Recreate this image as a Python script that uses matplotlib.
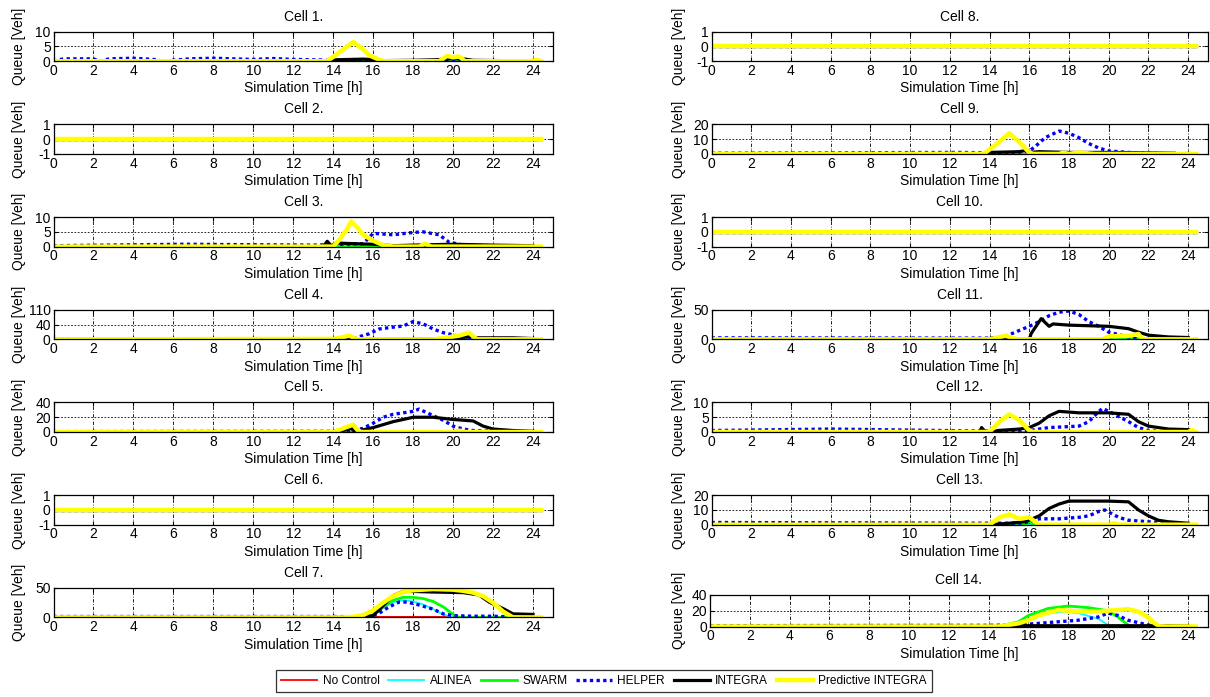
import matplotlib.pyplot as plt
import numpy as np

plt.rcParams['font.family'] = ['Liberation Sans', 'DejaVu Sans']
plt.rcParams['font.size'] = 10
plt.rcParams['axes.unicode_minus'] = False

# 시리즈 이름과 색, 선 모양
names = ['No Control', 'ALINEA', 'SWARM', 'HELPER', 'INTEGRA', 'Predictive INTEGRA']
colors = ['#ff0000', '#00ffff', '#00ff00', '#0000ff', '#000000', '#ffff00']
widths = [1.3, 1.3, 2.0, 2.4, 2.3, 3.2]
styles = ['-', '-', '-', (0, (1, 1)), '-', '-']

t_end = 24.4
flat = [(0, 0), (t_end, 0)]

# ---- Cell 1.
c1_helper = [(0, 0), (0.5, 0.8), (2, 0.8), (2.3, 0), (2.8, 0.8), (4, 1), (5, 0.6), (5.5, 0),
             (6.8, 0.8), (8, 1), (10, 0.6), (11, 0.9), (12, 0.6), (13.6, 0.4), (13.8, 0), (t_end, 0)]
c1_integra = [(0, 0), (13.8, 0.2), (14.2, 0.5), (15.5, 0.7), (16.2, 0.5), (16.5, 0.2), (18, 0.3),
              (19.2, 0.5), (20, 0.9), (20.5, 0.8), (21, 0.3), (24, 0.1)]
c1_pred = [(0, 0), (13.7, 0), (14.2, 2.5), (15, 6.5), (15.5, 4), (15.8, 2), (16.3, 0.5), (16.5, 0),
           (19.3, 0), (19.7, 1.8), (20, 1.3), (20.3, 1.6), (20.6, 0), (23.9, 0), (24.2, 0.5), (t_end, 0)]

# ---- Cell 3.
c3_swarm = [(0, 0), (14, 0), (14.2, 0.6), (14.5, 0), (t_end, 0)]
c3_helper = [(0, 0.3), (6.5, 0.8), (13, 0.5), (15.5, 1), (16, 4.5), (17, 4), (18, 4.8), (18.5, 5),
             (19.3, 4), (19.8, 1.5), (20.5, 0.5), (22, 0.3), (24, 0)]
c3_integra = [(0, 0), (13.5, 0), (13.7, 1.8), (13.9, 0.3), (14.2, 1.2), (15, 1), (16, 0.8), (17, 0.3),
              (18, 0.5), (20, 0.8), (22, 0.5), (24, 0.3)]
c3_pred = [(0, 0), (14, 0), (14.2, 1.5), (14.7, 6), (14.9, 8.5), (15.2, 6.5), (15.5, 4), (16, 2),
           (16.5, 0.5), (17, 0), (18.3, 0), (18.6, 1), (18.9, 0), (t_end, 0)]

# ---- Cell 4.
c4_helper = [(0, 1.5), (13.5, 1.5), (15, 2), (15.8, 15), (16.3, 28), (17, 33), (17.5, 36), (18, 48),
             (18.5, 42), (19, 28), (19.5, 18), (20, 12), (20.7, 3), (21, 0)]
c4_integra = [(0, 0), (14, 0), (14.5, 2), (15, 3), (15.2, 0), (19.5, 2), (20.5, 5), (20.9, 8),
              (21.1, 4), (23, 4), (24, 2)]
c4_pred = [(0, 0), (14, 1), (14.5, 6), (14.8, 10), (15, 5), (15.2, 0), (19, 0), (19.5, 3),
           (20.3, 10), (20.8, 18), (21, 8), (21.2, 0), (t_end, 0)]

# ---- Cell 5.
c5_swarm = [(0, 0), (20, 0), (20.3, 1), (20.6, 0), (t_end, 0)]
c5_helper = [(0, 0.5), (14, 1), (15, 2), (15.5, 5), (16, 12), (16.5, 20), (17, 24), (18, 28),
             (18.3, 31), (18.7, 26), (19.5, 16), (20, 8), (20.5, 4), (21, 2), (22, 1), (24, 0)]
c5_integra = [(0, 0), (14, 0.5), (14.5, 2), (14.9, 5), (15.1, 0), (15.5, 3), (16, 6), (17, 14),
              (18, 20), (19, 20), (20, 17), (21, 15), (21.5, 8), (22, 4), (23, 2), (24, 1)]
c5_pred = [(0, 0), (14, 0), (14.5, 5), (15, 10), (15.2, 3), (15.4, 0), (20, 0), (20.3, 2),
           (20.5, 0), (t_end, 0)]

# ---- Cell 7.
c7_nocontrol = [(0, 0), (15.8, 0), (15.9, 0.8), (19.8, 0.8), (20, 0), (t_end, 0)]
c7_alinea = [(0, 0), (15.5, 0), (16, 3), (16.5, 16), (17, 26), (17.5, 29), (18, 27), (18.5, 22),
             (19, 14), (19.5, 5), (20, 0), (t_end, 0)]
c7_swarm = [(0, 0), (15.5, 0), (16, 4), (16.5, 18), (17, 29), (17.5, 34), (18, 34), (18.5, 32),
            (19, 27), (19.5, 18), (20, 5), (20.3, 0), (t_end, 0)]
c7_helper = [(0, 1.5), (14, 1.5), (15.5, 1), (16.2, 5), (16.8, 18), (17.3, 26), (17.7, 26), (18.2, 22),
             (19, 14), (19.5, 6), (20, 3), (21, 2), (22, 2), (22.8, 1)]
c7_integra = [(0, 0), (15, 0), (16, 3), (16.5, 20), (17, 37), (17.5, 44), (18, 44), (19, 43),
              (20.5, 42), (21.3, 38), (21.8, 26), (22.5, 15), (23, 6), (24, 5)]
c7_pred = [(0, 0), (14.5, 0), (15, 1), (15.5, 4), (16, 12), (16.5, 25), (17, 36), (17.5, 43),
           (18, 46), (19, 48), (20, 47), (20.5, 45), (21, 42), (21.5, 36), (22, 25), (22.5, 10),
           (23, 0), (t_end, 0)]

# ---- Cell 9.
c9_helper = [(0, 0.5), (12.5, 1), (15, 0.5), (16, 2), (16.3, 5), (16.8, 11), (17.5, 15.5),
             (18, 14), (18.5, 11), (19, 7), (19.5, 4), (20, 2), (21, 1), (22, 0.5), (23.5, 0)]
c9_integra = [(0, 0), (13.8, 0.2), (14, 1), (15.5, 1.5), (15.9, 2.5), (16, 1), (16.5, 1.5),
              (18, 1), (20, 1), (21.5, 0.8), (23.3, 0.5)]
c9_pred = [(0, 0), (13.7, 0), (14.2, 5), (15, 14), (15.5, 8), (16, 1), (16.2, 0), (17.5, 0),
           (17.7, 0.8), (18, 0), (18.5, 1), (19, 0.3), (19.3, 0), (t_end, 0)]

# ---- Cell 11.
c11_swarm = [(0, 0), (19.7, 0), (20.5, 2), (21, 3), (21.5, 1), (21.7, 0), (t_end, 0)]
c11_helper = [(0, 2.5), (14, 2), (14.8, 5), (15.5, 15), (16, 22), (16.5, 30), (17, 40), (17.5, 46),
              (18, 48), (18.5, 42), (19, 30), (19.5, 22), (20, 12), (20.5, 8), (21, 4), (21.5, 0)]
c11_integra = [(0, 0), (14.5, 0), (15, 2), (15.2, 0), (16, 0), (16.1, 10), (16.6, 35), (17, 22),
               (17.2, 26), (18, 24), (19, 23), (20, 22), (21, 18), (21.5, 12), (22, 7), (23, 4),
               (24, 3)]
c11_pred = [(0, 0), (14, 0), (14.8, 6), (15.1, 3), (15.4, 0), (19.7, 0), (20, 5), (21, 6),
            (21.5, 9), (21.7, 0), (t_end, 0)]

# ---- Cell 12.
c12_helper = [(0, 0.5), (6, 1), (14, 0.3), (16, 0.5), (17, 1.5), (18.5, 2), (19, 3.5), (19.5, 7),
              (19.7, 8), (20.3, 6), (21, 3.5), (21.5, 1.5), (22, 0.5), (23, 0)]
c12_integra = [(0, 0), (13.5, 0), (13.6, 1.5), (13.8, 0), (14.2, 0), (14.4, 0.5), (15.5, 1),
               (16, 1.5), (16.5, 3), (17, 5.5), (17.5, 7), (18.5, 6.5), (20, 6.5), (21, 6),
               (21.5, 3.5), (22, 2), (23, 1), (24, 0.8)]
c12_pred = [(0, 0), (14, 0), (14.5, 3.5), (15, 6), (15.5, 4), (16, 0.5), (16.2, 0), (24, 0),
            (24.2, 0.7), (t_end, 0)]

# ---- Cell 13.
c13_swarm = [(0, 0), (15.8, 0), (16, 2), (16.3, 0), (t_end, 0)]
c13_helper = [(0, 1.5), (14, 1), (15.5, 1), (16, 2), (16.5, 4), (17.5, 4), (18.5, 5), (19, 6),
              (19.5, 9), (19.8, 10), (20.5, 5), (21, 3), (22, 2), (23, 1)]
c13_integra = [(0, 0), (14, 0), (15, 1), (15.8, 2), (16.5, 6), (17, 11), (17.5, 14), (18, 16),
               (19, 16), (20, 16), (21, 15.5), (21.5, 10), (22, 6), (22.5, 3), (23, 2), (24, 1)]
c13_pred = [(0, 0), (14, 0), (14.5, 5), (15, 7), (15.5, 4), (16, 5), (16.3, 2), (16.5, 0),
            (20, 0), (20.3, 1), (20.5, 0), (t_end, 0)]

# ---- Cell 14.
c14_alinea = [(0, 0), (15, 0), (16, 8), (17, 17), (17.8, 19), (18.5, 17), (19.5, 10), (20, 2),
              (20.2, 0), (t_end, 0)]
c14_swarm = [(0, 0), (14.5, 0), (15.5, 6), (16, 14), (17, 23), (18, 26), (19, 24), (20, 20),
             (20.5, 12), (21, 2), (21.2, 0), (t_end, 0)]
c14_helper = [(0, 1), (14, 1.5), (15.5, 2), (16.5, 4), (17.5, 6), (18.5, 8), (19.5, 12), (20, 17),
              (20.5, 14), (21, 8), (21.5, 5), (22, 2), (22.5, 0)]
c14_integra = [(0, 0), (14.8, 0), (15, 1), (22.3, 1), (22.5, 0), (23, 1), (24, 0.5)]
c14_pred = [(0, 0), (14.5, 0), (15.5, 4), (16, 8), (16.5, 14), (17.5, 21), (18.5, 19), (19.5, 19),
            (20, 20), (21, 22), (21.5, 19), (22, 12), (22.3, 5), (22.6, 0), (t_end, 0)]

# 축 설정
ylims = {1: (0, 10), 2: (-1, 1), 3: (0, 10), 4: (0, 80), 5: (0, 40), 6: (-1, 1), 7: (0, 50),
         8: (-1, 1), 9: (0, 20), 10: (-1, 1), 11: (0, 50), 12: (0, 10), 13: (0, 20), 14: (0, 40)}
yticks = {1: [0, 5, 10], 2: [-1, 0, 1], 3: [0, 5, 10], 4: [0, 40, 80], 5: [0, 20, 40],
          6: [-1, 0, 1], 7: [0, 50], 8: [-1, 0, 1], 9: [0, 10, 20], 10: [-1, 0, 1], 11: [0, 50],
          12: [0, 5, 10], 13: [0, 10, 20], 14: [0, 20, 40]}
ytick_labels = {4: ['0', '40', '110']}

cell_data = {
    1: {'HELPER': c1_helper, 'INTEGRA': c1_integra, 'Predictive INTEGRA': c1_pred},
    2: {},
    3: {'SWARM': c3_swarm, 'HELPER': c3_helper, 'INTEGRA': c3_integra, 'Predictive INTEGRA': c3_pred},
    4: {'HELPER': c4_helper, 'INTEGRA': c4_integra, 'Predictive INTEGRA': c4_pred},
    5: {'SWARM': c5_swarm, 'HELPER': c5_helper, 'INTEGRA': c5_integra, 'Predictive INTEGRA': c5_pred},
    6: {},
    7: {'No Control': c7_nocontrol, 'ALINEA': c7_alinea, 'SWARM': c7_swarm, 'HELPER': c7_helper,
        'INTEGRA': c7_integra, 'Predictive INTEGRA': c7_pred},
    8: {},
    9: {'HELPER': c9_helper, 'INTEGRA': c9_integra, 'Predictive INTEGRA': c9_pred},
    10: {},
    11: {'SWARM': c11_swarm, 'HELPER': c11_helper, 'INTEGRA': c11_integra, 'Predictive INTEGRA': c11_pred},
    12: {'HELPER': c12_helper, 'INTEGRA': c12_integra, 'Predictive INTEGRA': c12_pred},
    13: {'SWARM': c13_swarm, 'HELPER': c13_helper, 'INTEGRA': c13_integra, 'Predictive INTEGRA': c13_pred},
    14: {'ALINEA': c14_alinea, 'SWARM': c14_swarm, 'HELPER': c14_helper, 'INTEGRA': c14_integra,
         'Predictive INTEGRA': c14_pred},
}

W, H = 1210, 697
fig = plt.figure(figsize=(W / 100, H / 100), dpi=100)

# 픽셀 단위 축 위치 (left, top, width, height)
def ax_box(cell):
    if cell <= 7:
        i = cell - 1
        return 53.5, 31.7 + 92.7 * i, 499.5, 29.5
    i = cell - 8
    if cell == 14:
        return 710, 595, 497.5, 31.5
    return 711.5, 31.7 + 92.7 * i, 496.5, 29.5

handles = []
for cell in range(1, 15):
    l, t, w, h = ax_box(cell)
    ax = fig.add_axes([l / W, 1 - (t + h) / H, w / W, h / H])
    data = cell_data[cell]
    for k, name in enumerate(names):
        pts = np.array(data.get(name, flat), dtype=float)
        line, = ax.plot(pts[:, 0], pts[:, 1], color=colors[k], lw=widths[k], ls=styles[k],
                        label=name, solid_joinstyle='round', zorder=2 + k * 0.1)
        if cell == 7:
            handles.append(line)
    ax.set_xlim(0, 25)
    ax.set_ylim(*ylims[cell])
    ax.set_xticks(np.arange(0, 25, 2))
    ax.set_yticks(yticks[cell])
    if cell in ytick_labels:
        ax.set_yticklabels(ytick_labels[cell])
    ax.tick_params(direction='in', length=3, top=True, right=True, pad=2, labelsize=10)
    ax.xaxis.grid(True, color='black', lw=0.6, ls=(0, (4, 2, 1, 2)))
    ax.yaxis.grid(True, color='black', lw=0.6, ls=(0, (2, 2)))
    ax.set_axisbelow(True)
    for s in ax.spines.values():
        s.set_linewidth(0.9)
    ax.set_title('Cell %d.' % cell, fontsize=10, pad=8)
    ax.set_xlabel('Simulation Time [h]', fontsize=10, labelpad=2.5)
    ax.set_ylabel('Queue [Veh]', fontsize=10)
    # 세로 라벨 위치를 열마다 맞춘다
    ylab_px = 26 if cell <= 7 else 686
    ax.yaxis.set_label_coords((ylab_px - l) / w, 0.5)

leg = fig.legend(handles=handles, loc='center', bbox_to_anchor=(604 / W, 1 - 681 / H), ncol=6,
                 fontsize=8.6, frameon=True, fancybox=False, edgecolor='black', handlelength=3.0,
                 columnspacing=0.75, handletextpad=0.45, borderpad=0.45, borderaxespad=0)
leg.get_frame().set_linewidth(0.9)

fig.savefig('out.png', dpi=100)
